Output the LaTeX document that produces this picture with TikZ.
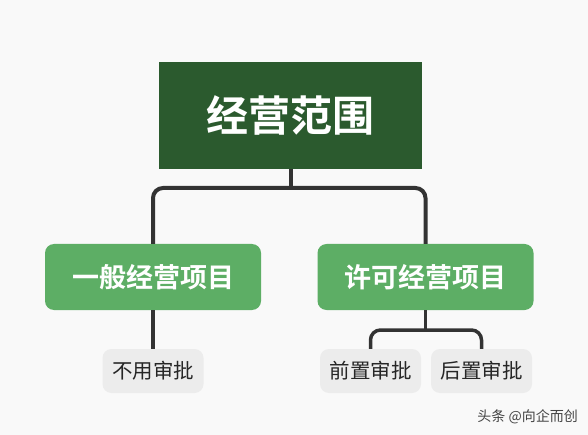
\documentclass[tikz,border=0pt]{standalone}
\usepackage{fontspec}
\newfontfamily\cjk{Noto Sans CJK SC}
\newfontfamily\cjkb{Noto Sans CJK SC Bold}
\definecolor{bgc}{HTML}{F9F9F9}
\definecolor{rootc}{HTML}{2B5A2E}
\definecolor{midc}{HTML}{5DAE65}
\definecolor{leafc}{HTML}{ECECEC}
\definecolor{linec}{HTML}{333333}
\definecolor{wmc}{HTML}{444444}
\begin{document}
\begin{tikzpicture}[x=1pt,y=-1pt,
  rootbox/.style={fill=rootc,text=white,minimum width=263pt,minimum height=107pt,inner sep=0pt,font=\cjkb\fontsize{42}{42}\selectfont},
  midbox/.style={fill=midc,text=white,rounded corners=9pt,minimum width=216pt,minimum height=66pt,inner sep=0pt,font=\cjkb\fontsize{27}{27}\selectfont},
  leafbox/.style={fill=leafc,text=black!85,rounded corners=9pt,minimum width=101pt,minimum height=44pt,inner sep=0pt,font=\cjk\fontsize{20.5}{20.5}\selectfont},
  conn/.style={draw=linec,line width=4pt,rounded corners=10pt}]
\fill[bgc] (0,0) rectangle (588,435);
\useasboundingbox (0,0) rectangle (588,435);
\node[rootbox] (root) at (290.5,115.5) {经营范围};
\node[midbox] (m1) at (153,277) {一般经营项目};
\node[midbox] (m2) at (425.5,277) {许可经营项目};
\node[leafbox] (l1) at (153,371) {不用审批};
\node[leafbox] (l2) at (370.5,371) {前置审批};
\node[leafbox] (l3) at (481.5,371) {后置审批};
\coordinate (bar) at (290.5,188);
\draw[conn] (root.south) -- (bar);
\draw[conn] (m1.north) -- (m1.north |- bar) -- (m2.north |- bar) -- (m2.north);
\draw[conn,line width=3.5pt] (m1.south) -- (l1.north);
\coordinate (bar2) at (425.5,330);
\draw[conn,line width=3.5pt] (m2.south) -- (bar2);
\draw[conn,line width=3.5pt] (l2.north) -- (l2.north |- bar2) -- (l3.north |- bar2) -- (l3.north);
\node[text=wmc,font=\cjk\fontsize{14}{14}\selectfont,anchor=east,inner sep=0pt] (wm) at (578,417) {头条 @向企而创};
\end{tikzpicture}
\end{document}
